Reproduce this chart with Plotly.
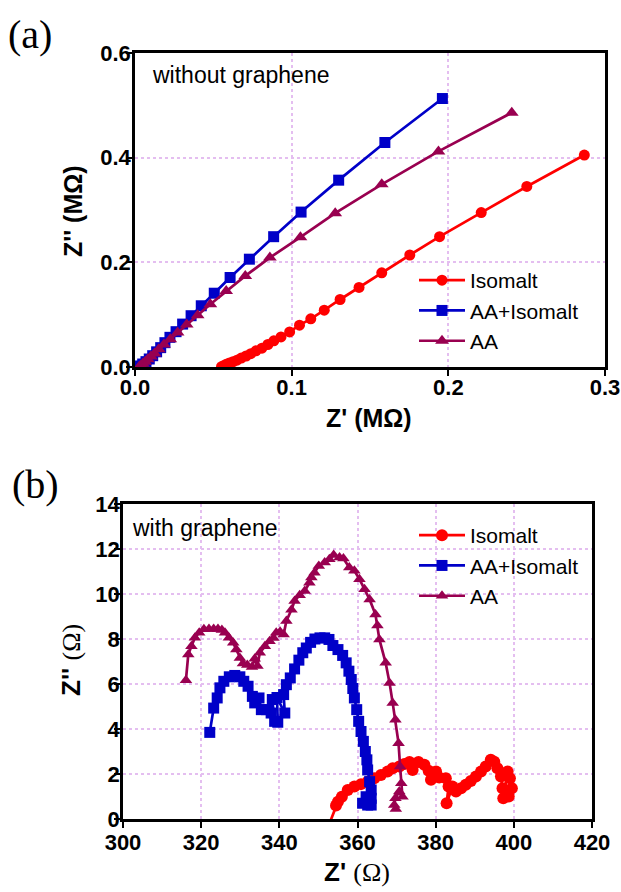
import plotly.graph_objects as go

# ---------------- Panel (a): without graphene (MOhm) ----------------
a_iso_x = [0.2868, 0.2501, 0.2210, 0.1944, 0.1754, 0.1575, 0.1430, 0.1309, 0.1208, 0.1122,
           0.1050, 0.0987, 0.0932, 0.0886, 0.0848, 0.0810, 0.0772, 0.0739, 0.0709, 0.0678,
           0.0651, 0.0625, 0.0603, 0.0582, 0.0565, 0.0552]
a_iso_y = [0.405, 0.345, 0.295, 0.249, 0.214, 0.180, 0.152, 0.129, 0.1085, 0.092,
           0.080, 0.067, 0.0575, 0.050, 0.043, 0.036, 0.031, 0.0255, 0.021, 0.017,
           0.013, 0.010, 0.0077, 0.0051, 0.0026, 0.0006]

a_aai_x = [0.1962, 0.1595, 0.1300, 0.1060, 0.0885, 0.0730, 0.0607, 0.0506, 0.0423, 0.0358,
           0.0304, 0.0262, 0.0223, 0.0191, 0.0164, 0.0138, 0.0113, 0.0091, 0.0070, 0.0049,
           0.0030]
a_aai_y = [0.513, 0.429, 0.357, 0.296, 0.249, 0.206, 0.171, 0.141, 0.117, 0.098,
           0.082, 0.0675, 0.0567, 0.0465, 0.037, 0.029, 0.0216, 0.0153, 0.0102, 0.0057,
           0.002]

a_aa_x = [0.2405, 0.1937, 0.1575, 0.1278, 0.1056, 0.0861, 0.0704, 0.0582, 0.0481, 0.0400,
          0.0330, 0.0272, 0.0225, 0.0185, 0.0152, 0.0125, 0.0102, 0.0082, 0.0065, 0.0050,
          0.0038, 0.0028]
a_aa_y = [0.486, 0.412, 0.349, 0.294, 0.248, 0.209, 0.174, 0.145, 0.120, 0.099,
          0.081, 0.066, 0.053, 0.043, 0.034, 0.026, 0.020, 0.015, 0.010, 0.006,
          0.003, 0.001]

# ---------------- Panel (b): with graphene (Ohm) ----------------
b_iso_x = [352.6, 354.5, 355.0, 356.0, 357.5, 359.2, 360.9, 362.6, 364.3, 366.0,
           367.7, 369.0, 370.7, 372.0, 373.3, 374.1, 375.6, 377.1, 378.2, 378.8,
           380.1, 380.9, 382.6, 383.3, 382.8, 384.3, 385.2, 386.5, 387.7, 389.0,
           390.3, 391.6, 392.8, 394.1, 395.0, 395.8, 396.7, 397.1, 397.3, 398.4,
           399.0, 399.5, 398.7]
b_iso_y = [-0.3, 0.60, 0.77, 0.99, 1.29, 1.44, 1.55, 1.66, 1.81, 1.96,
           2.11, 2.26, 2.33, 2.44, 2.53, 2.18, 2.53, 2.41, 2.14, 1.74,
           2.11, 1.84, 1.81, 1.44, 0.70, 1.44, 1.22, 1.37, 1.52, 1.69,
           1.89, 2.11, 2.33, 2.63, 2.55, 2.26, 1.89, 1.37, 0.92, 2.11,
           1.81, 1.37, 1.00]

b_aai_x = [322.2, 323.2, 324.1, 324.8, 325.8, 327.2, 328.6, 329.9, 330.9, 332.0,
           333.1, 333.7, 334.8, 335.4, 336.7, 337.9, 338.2, 338.8, 339.6, 339.4,
           341.4, 341.1, 341.8, 342.8, 343.9, 345.0, 346.0, 346.9, 348.0, 349.1,
           350.4, 351.6, 352.7, 353.7, 355.0, 356.2, 357.1, 357.8, 358.4, 358.8,
           359.2, 359.8, 360.3, 360.9, 361.5, 362.0, 362.4, 362.6, 363.1, 363.5,
           363.5, 362.2, 361.3, 362.6, 363.5]
b_aai_y = [3.85, 4.93, 5.38, 5.83, 6.12, 6.32, 6.38, 6.32, 6.12, 5.90,
           5.45, 5.16, 5.38, 4.86, 4.86, 4.71, 5.31, 4.34, 4.30, 5.40,
           4.71, 5.53, 5.97, 6.27, 6.67, 7.06, 7.39, 7.60, 7.85, 8.00,
           8.05, 8.05, 7.98, 7.71, 7.53, 7.27, 6.94, 6.57, 6.20, 5.80,
           5.38, 4.86, 4.34, 3.89, 3.45, 3.00, 2.63, 2.18, 1.66, 1.29,
           0.92, 0.99, 0.70, 0.62, 0.62]

b_aa_x = [316.1, 316.7, 317.5, 318.4, 319.5, 320.7, 322.0, 323.2, 324.3, 325.3,
          326.1, 327.1, 328.2, 329.0, 329.9, 330.7, 331.8, 333.0, 333.7, 334.4,
          335.0, 336.3, 337.5, 338.5, 339.2, 340.2, 341.1, 341.8, 343.1, 343.9,
          345.2, 346.5, 347.7, 348.2, 349.0, 350.1, 351.6, 352.8, 353.9, 355.4,
          356.4, 357.9, 359.2, 360.5, 361.8, 363.1, 364.6, 365.1, 365.6, 367.2,
          368.2, 369.0, 369.7, 370.5, 370.9, 371.2, 371.5, 370.7, 369.7, 369.4,
          369.8]
b_aa_y = [6.17, 7.31, 7.68, 8.06, 8.28, 8.43, 8.45, 8.45, 8.45, 8.40,
          8.28, 8.06, 7.83, 7.53, 7.16, 6.91, 6.85, 6.76, 7.12, 6.80,
          7.39, 7.68, 7.90, 8.05, 8.28, 8.32, 8.20, 8.80, 9.30, 9.69,
          9.95, 10.13, 10.50, 10.73, 10.95, 11.25, 11.40, 11.55, 11.73, 11.62,
          11.58, 11.18, 11.03, 10.66, 10.21, 9.76, 9.09, 8.60, 7.98, 6.94,
          6.05, 5.16, 4.41, 3.37, 2.33, 1.59, 0.99, 1.22, 0.92, 0.62,
          0.45]

series_names = ["Isomalt", "AA+Isomalt", "AA"]
colors = ["#FF0000", "#0000C8", "#990050"]
symbols = ["circle", "square", "triangle-up"]

x_ticks_a = [0.0, 0.1, 0.2, 0.3]
y_ticks_a = [0.0, 0.2, 0.4, 0.6]
x_ticks_b = [300, 320, 340, 360, 380, 400, 420]
y_ticks_b = [0, 2, 4, 6, 8, 10, 12, 14]

W, H = 621, 892
SANS = "Arial, Liberation Sans, sans-serif"
SERIF = "Times New Roman, Liberation Serif, serif"

fig = go.Figure()

a_data = [(a_iso_x, a_iso_y), (a_aai_x, a_aai_y), (a_aa_x, a_aa_y)]
b_data = [(b_iso_x, b_iso_y), (b_aai_x, b_aai_y), (b_aa_x, b_aa_y)]
a_sizes = [11, 11, 12]
b_sizes = [12, 11, 11]

for i, (xs, ys) in enumerate(a_data):
    fig.add_trace(go.Scatter(x=xs, y=ys, mode="lines+markers", name=series_names[i],
                             line=dict(color=colors[i], width=2.7),
                             marker=dict(color=colors[i], symbol=symbols[i], size=a_sizes[i]),
                             xaxis="x", yaxis="y", legend="legend"))
for i, (xs, ys) in enumerate(b_data):
    fig.add_trace(go.Scatter(x=xs, y=ys, mode="lines+markers", name=series_names[i],
                             line=dict(color=colors[i], width=2.7),
                             marker=dict(color=colors[i], symbol=symbols[i], size=b_sizes[i]),
                             xaxis="x2", yaxis="y2", legend="legend2"))


def px_x(p):
    return p / W


def px_y(p):
    return 1 - p / H


grid_col = "rgb(228,190,240)"
axis_common = dict(showline=True, linecolor="black", linewidth=2.5, mirror=True,
                   ticks="outside", ticklen=6, tickwidth=2, tickcolor="black",
                   showgrid=True, gridcolor=grid_col, griddash="dot", gridwidth=1.5,
                   zeroline=False, automargin=False,
                   tickfont=dict(family=SANS, size=22, color="black", weight="bold"))

fig.update_layout(
    template="none",
    width=W, height=H,
    margin=dict(l=0, r=0, t=0, b=0, autoexpand=False),
    paper_bgcolor="white", plot_bgcolor="white",
    showlegend=True,
    xaxis=dict(domain=[px_x(135), px_x(605)], anchor="y", range=[0, 0.3],
               tickvals=x_ticks_a, tickformat=".1f", ticklabelstandoff=-7, **axis_common),
    yaxis=dict(domain=[px_y(367), px_y(53)], anchor="x", range=[0, 0.6],
               tickvals=y_ticks_a, tickformat=".1f", ticklabelstandoff=-9, **axis_common),
    xaxis2=dict(domain=[px_x(123), px_x(592)], anchor="y2", range=[300, 420],
                tickvals=x_ticks_b, ticklabelstandoff=-4, **axis_common),
    yaxis2=dict(domain=[px_y(819), px_y(504)], anchor="x2", range=[0, 14],
                tickvals=y_ticks_b, ticklabelstandoff=-10, **axis_common),
    legend=dict(x=px_x(414), y=px_y(260), xanchor="left", yanchor="top",
                bgcolor="rgba(0,0,0,0)", font=dict(family=SANS, size=21, color="black"),
                itemwidth=46),
    legend2=dict(x=px_x(414), y=px_y(515), xanchor="left", yanchor="top",
                 bgcolor="rgba(0,0,0,0)", font=dict(family=SANS, size=21, color="black"),
                 itemwidth=46),
)

ann = []
ann.append(dict(text="(a)", x=px_x(6), y=px_y(34), xref="paper", yref="paper",
                xanchor="left", yanchor="middle", showarrow=False,
                font=dict(family=SERIF, size=40, color="black")))
ann.append(dict(text="(b)", x=px_x(10), y=px_y(485), xref="paper", yref="paper",
                xanchor="left", yanchor="middle", showarrow=False,
                font=dict(family=SERIF, size=40, color="black")))
ann.append(dict(text="without graphene", x=px_x(150), y=px_y(75), xref="paper", yref="paper",
                xanchor="left", yanchor="middle", showarrow=False,
                font=dict(family=SANS, size=23, color="black")))
ann.append(dict(text="with graphene", x=px_x(130), y=px_y(528), xref="paper", yref="paper",
                xanchor="left", yanchor="middle", showarrow=False,
                font=dict(family=SANS, size=23, color="black")))
# axis titles panel a
ann.append(dict(text="<b>Z' (MΩ)</b>", x=px_x(369), y=px_y(418), xref="paper", yref="paper",
                xanchor="center", yanchor="middle", showarrow=False,
                font=dict(family=SANS, size=25, color="black")))
ann.append(dict(text="<b>Z'' (MΩ)</b>", x=px_x(73), y=px_y(211), xref="paper", yref="paper",
                xanchor="center", yanchor="middle", showarrow=False, textangle=-90,
                font=dict(family=SANS, size=25, color="black")))
# axis titles panel b
ann.append(dict(text="<b>Z'</b> <span style='font-family:Liberation Serif'>(Ω)</span>",
                x=px_x(357), y=px_y(872), xref="paper", yref="paper",
                xanchor="center", yanchor="middle", showarrow=False,
                font=dict(family=SANS, size=26, color="black")))
ann.append(dict(text="<b>Z''</b> <span style='font-family:Liberation Serif'>(Ω)</span>",
                x=px_x(71), y=px_y(660), xref="paper", yref="paper",
                xanchor="center", yanchor="middle", showarrow=False, textangle=-90,
                font=dict(family=SANS, size=26, color="black")))
fig.update_layout(annotations=ann)

fig.write_html("out.html", config={"displayModeBar": False},
               post_script="document.body.style.margin='0';document.body.style.overflow='hidden';")
